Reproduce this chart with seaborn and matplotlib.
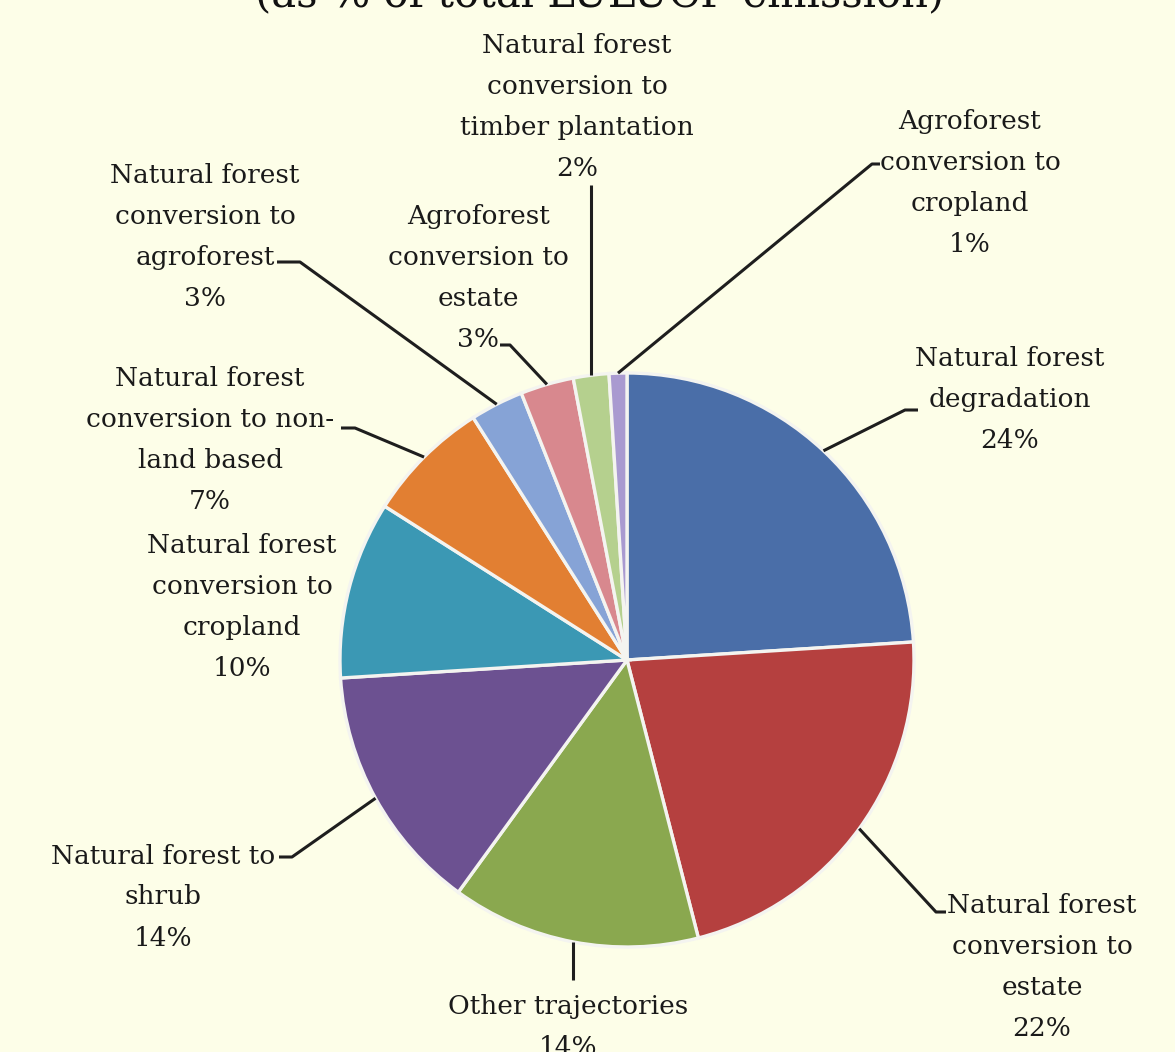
import matplotlib
matplotlib.use("Agg")
import matplotlib.pyplot as plt
import seaborn as sns
import numpy as np

# Emission shares by land-use trajectory (% of total LULUCF emission)
categories = [
    "Natural forest\ndegradation",
    "Natural forest\nconversion to\nestate",
    "Other trajectories",
    "Natural forest to\nshrub",
    "Natural forest\nconversion to\ncropland",
    "Natural forest\nconversion to non-\nland based",
    "Natural forest\nconversion to\nagroforest",
    "Agroforest\nconversion to\nestate",
    "Natural forest\nconversion to\ntimber plantation",
    "Agroforest\nconversion to\ncropland",
]
shares = [24, 22, 14, 14, 10, 7, 3, 3, 2, 1]
slice_colors = ["#4a6ea8", "#b5403f", "#8aa84f", "#6c5191", "#3b98b4",
                "#e27f32", "#86a3d6", "#d8888e", "#b5d08e", "#a99ad0"]

BG = "#fdfee8"
sns.set_theme(style="white")
plt.rcParams["font.family"] = ["DejaVu Serif"]

W, H = 1175, 1052
fig = plt.figure(figsize=(W / 100, H / 100), dpi=100, facecolor=BG)
ax = fig.add_axes([0, 0, 1, 1])
ax.set_facecolor(BG)

# pixel layout helpers: pie centre and radius in pixels
CX, CY, R = 627, 660, 287


def px(x, y):
    return ((x - CX) / R, (CY - y) / R)


wedges, _ = ax.pie(shares, colors=sns.color_palette(slice_colors), startangle=90,
                   counterclock=False, radius=1.0, center=(0, 0),
                   wedgeprops=dict(edgecolor="#f4f4f0", linewidth=2.4))

ax.set_xlim(-CX / R, (W - CX) / R)
ax.set_ylim(-(H - CY) / R, CY / R)
ax.set_aspect("equal")
ax.axis("off")

# label anchor (text centre) and leader path (after the rim point), in pixels
label_pos = [(1010, 400), (1042, 967), (568, 1027), (163, 897), (242, 607),
             (210, 440), (205, 237), (478, 278), (577, 107), (970, 183)]
leader_path = [
    [(905, 410), (918, 410)],
    [(936, 912), (946, 912)],
    None,
    [(292, 857), (279, 857)],
    [],
    [(355, 428), (341, 428)],
    [(300, 262), (277, 262)],
    [(510, 345), (500, 345)],
    None,
    [(872, 164), (880, 164)],
]

for i, (w, cat, val) in enumerate(zip(wedges, categories, shares)):
    theta = np.deg2rad((w.theta1 + w.theta2) / 2)
    rim = (np.cos(theta), np.sin(theta))
    path = leader_path[i]
    if path is None:
        # vertical leader straight up/down from the rim
        end_y = 980 if rim[1] < 0 else 185
        pts = [rim, (rim[0], px(0, end_y)[1])]
    elif len(path) == 0:
        pts = []
    else:
        pts = [rim] + [px(*p) for p in path]
    if pts:
        xs, ys = zip(*pts)
        ax.plot(xs, ys, color="#1e1e1e", lw=2.2, solid_capstyle="butt", zorder=3)
    tx, ty = px(*label_pos[i])
    ax.text(tx, ty, f"{cat}\n{val}%", ha="center", va="center", fontsize=19,
            color="#1a1a1a", linespacing=1.8, zorder=4)

tx, ty = px(600, 6)
ax.text(tx, ty, "(as % of total LULUCF emission)", ha="center", va="baseline",
        fontsize=30, color="#111111")

fig.savefig("out.png", dpi=100, facecolor=BG)
